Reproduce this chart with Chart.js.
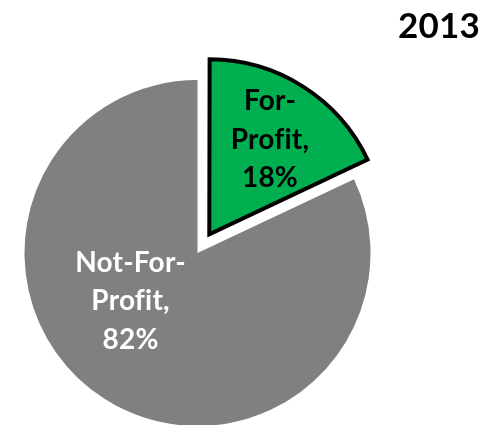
<!DOCTYPE html>
<html>
<head>
<meta charset="utf-8">
<script src="https://cdn.jsdelivr.net/npm/chart.js@4/dist/chart.umd.min.js"></script>
<style>
  html, body { margin: 0; padding: 0; background: #ffffff; overflow: hidden; }
  #wrap { width: 498px; height: 425px; }
</style>
</head>
<body>
<div id="wrap"><canvas id="pie" width="498" height="425"></canvas></div>
<script>
// Ownership split for the year
const chartTitle = '2013';
const categories = ['For-Profit', 'Not-For-Profit'];
const shares = [18, 82];

const sliceColors = ['#00B050', '#808080'];
const labelColors = ['#000000', '#ffffff'];
const FONT = 'Lato, "Open Sans", "Liberation Sans", sans-serif';

// Split a category name after its last hyphen so it wraps like "Not-For-" / "Profit,"
function labelLines(name, value) {
  const cut = name.lastIndexOf('-');
  const lines = cut > 0 ? [name.slice(0, cut + 1), name.slice(cut + 1) + ','] : [name + ','];
  lines.push(value + '%');
  return lines;
}

// Draws the in-slice labels and the year heading
const sliceLabels = {
  id: 'sliceLabels',
  afterDatasetsDraw(chart, args, opts) {
    const ctx = chart.ctx;
    const meta = chart.getDatasetMeta(0);
    const ds = chart.data.datasets[0];
    ctx.save();
    ctx.font = 'bold ' + opts.size + 'px ' + FONT;
    // a hair of tracking keeps "fi" as two separate letters
    if ('letterSpacing' in ctx) ctx.letterSpacing = '0.2px';
    ctx.textAlign = 'center';
    ctx.textBaseline = 'alphabetic';
    meta.data.forEach((arc, i) => {
      const p = arc.getProps(['x', 'y', 'startAngle', 'endAngle', 'outerRadius'], true);
      const mid = (p.startAngle + p.endAngle) / 2;
      // ArcElement shifts an exploded slice by a quarter of its offset option
      const off = (Array.isArray(ds.offset) ? ds.offset[i] : 0) / 4;
      const cx = p.x + Math.cos(mid) * off;
      const cy = p.y + Math.sin(mid) * off;
      const place = opts.place[i];
      const a = mid + place.turn * Math.PI / 180;
      const lx = cx + Math.cos(a) * p.outerRadius * place.dist;
      const ly = cy + Math.sin(a) * p.outerRadius * place.dist;
      const lines = labelLines(chart.data.labels[i], ds.data[i]);
      ctx.fillStyle = labelColors[i];
      const capHalf = opts.size * 0.36;
      const first = -(lines.length - 1) / 2;
      lines.forEach((t, k) => {
        ctx.fillText(t, lx, ly + capHalf + (first + k) * opts.lineGap);
      });
    });
    // year heading, top right
    ctx.font = 'bold ' + opts.titleSize + 'px ' + FONT;
    ctx.textAlign = 'right';
    ctx.fillStyle = '#000000';
    ctx.fillText(chartTitle, opts.titleRight, opts.titleBaseline);
    ctx.restore();
  }
};

new Chart(document.getElementById('pie'), {
  type: 'pie',
  data: {
    labels: categories,
    datasets: [{
      data: shares,
      backgroundColor: sliceColors,
      borderColor: ['#000000', '#808080'],
      borderWidth: [4, 0],
      borderJoinStyle: 'miter',
      offset: [88, 0],
      radius: 173
    }]
  },
  options: {
    responsive: false,
    animation: false,
    events: [],
    layout: { padding: { left: 0, right: 103, top: 81, bottom: 0 } },
    plugins: {
      legend: { display: false },
      tooltip: { enabled: false },
      title: { display: false },
      sliceLabels: {
        size: 28,
        lineGap: 38.5,
        place: [{ turn: 0, dist: 0.655 }, { turn: 22.5, dist: 0.473 }],
        titleSize: 35,
        titleRight: 480,
        titleBaseline: 38
      }
    }
  },
  plugins: [sliceLabels]
});
</script>
</body>
</html>
